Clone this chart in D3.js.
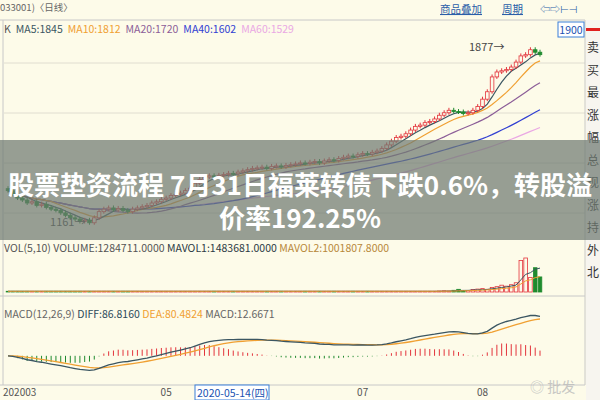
<!DOCTYPE html>
<html><head><meta charset="utf-8">
<script src="https://cdn.jsdelivr.net/npm/d3@7"></script>
<style>body{margin:0;background:#fff}svg{display:block;font-family:"Noto Sans CJK SC","DejaVu Sans",sans-serif}</style>
</head><body><div id="chart"></div>
<script>
// daily closes, Mar - mid Aug
const closes = [1300,1285,1270,1262,1250,1255,1240,1245,1232,1225,
  1220,1210,1200,1190,1185,1175,1180,1170,1190,1215,
  1225,1230,1222,1228,1220,1215,1225,1230,1235,1240,
  1250,1255,1265,1270,1280,1285,1290,1300,1310,1330,
  1345,1355,1360,1355,1362,1365,1370,1368,1375,1380,
  1385,1390,1392,1395,1390,1398,1400,1396,1402,1405,
  1408,1412,1410,1415,1418,1412,1420,1425,1422,1430,
  1435,1440,1438,1445,1450,1448,1455,1460,1470,1485,
  1500,1515,1520,1530,1545,1560,1565,1575,1580,1590,
  1605,1615,1625,1620,1618,1612,1615,1625,1640,1670,
  1700,1760,1780,1785,1790,1800,1820,1845,1850,1870,1860,1850];
const vols = [3,3,3,3,3,3,3,3,3,3, 3,3,3,3,3,3,3,3,3,3, 3,3,3,3,3,3,3,3,3,3,
  3,3,3,3,3,3,3,3,3,3, 3,3,3,3,3,3,3,3,3,3, 3,3,3,3,3,3,3,3,3,3,
  3,3,3,3,3,3,3,3,3,3, 3,3,3,3,3,3,3,3,3,3, 3,3,3,3,3,3,3,3,3,3,
  4,5,4,7,11,6,6,10,12,14, 11,19,22,28,24,30,38,130,140,60,100,62];
const maDefs = [["MA5",5,"#3b5662"],["MA10",10,"#f0a032"],["MA20",20,"#8c5e98"],["MA40",40,"#3140d2"],["MA60",60,"#eaa8e4"]];
const legendK = [["K","#555"],["MA5:1845","#3b5662"],["MA10:1812","#f0a032"],["MA20:1720","#8c5e98"],["MA40:1602","#3140d2"],["MA60:1529","#eaa8e4"]];
const monthTicks = [[0,"202003"],[33,"05"],[74,"07"],[99,"08"]];
const sideChars = ["卖","买","最","涨","幅","总","现","涨","持","外","北"];

const W = 600, H = 400;
const svg = d3.select("#chart").append("svg").attr("width", W).attr("height", H);
svg.append("rect").attr("width", W).attr("height", H).attr("fill", "#fdfbe9");

const x = d3.scaleLinear().domain([0, closes.length - 1]).range([8, 540]);
const y = d3.scaleLinear().domain([1161, 1877]).range([225, 48]);
const up = "#e3343c", down = "#1f8a2e";

// panel frames / grid
svg.append("line").attr("x1", 0).attr("x2", 585).attr("y1", 20).attr("y2", 20).attr("stroke", "#c8c8c8");
[63, 113, 163, 213].forEach(g => svg.append("line").attr("x1", 4).attr("x2", 585).attr("y1", g).attr("y2", g).attr("stroke", "#e0ddd0"));
svg.append("line").attr("x1", 585).attr("x2", 585).attr("y1", 20).attr("y2", 385).attr("stroke", "#c8c8c8");
svg.append("line").attr("x1", 3).attr("x2", 3).attr("y1", 20).attr("y2", 385).attr("stroke", "#c8c8c8");
[296, 385].forEach(g => svg.append("line").attr("x1", 0).attr("x2", 585).attr("y1", g).attr("y2", g).attr("stroke", "#c8c8c8"));

// moving averages
const ma = n => closes.map((c, i) => d3.mean(closes.slice(Math.max(0, i - n + 1), i + 1)));
maDefs.slice().reverse().forEach(([, n, col]) => {
  svg.append("path").datum(ma(n)).attr("fill", "none").attr("stroke", col).attr("stroke-width", 1.2)
    .attr("d", d3.line().x((d, i) => x(i)).y(d => y(d)));
});

// candles
const opens = closes.map((c, i) => i ? closes[i - 1] : c + 8);
const cg = svg.append("g");
closes.forEach((c, i) => {
  const o = opens[i], isUp = c >= o, col = isUp ? up : down;
  const hi = Math.max(o, c) + 10, lo = Math.min(o, c) - 8;
  cg.append("line").attr("x1", x(i)).attr("x2", x(i)).attr("y1", y(hi)).attr("y2", y(lo)).attr("stroke", col);
  const top = y(Math.max(o, c)), h = Math.max(1, y(Math.min(o, c)) - top);
  cg.append("rect").attr("x", x(i) - 1.8).attr("y", top).attr("width", 3.6).attr("height", h)
    .attr("fill", isUp ? "#fdfbe9" : col).attr("stroke", col).attr("stroke-width", 0.8);
});
svg.append("text").attr("x", x(104) - 2).attr("y", 51).attr("font-size", 11).attr("fill", "#444").attr("text-anchor", "end").text("1877→");
svg.append("text").attr("x", x(17) - 4).attr("y", 226).attr("font-size", 11).attr("fill", "#444").attr("text-anchor", "end").text("1161→");

// volume
const yv = d3.scaleLinear().domain([0, 140]).range([292, 258]);
vols.forEach((v, i) => {
  const isUp = closes[i] >= opens[i], col = isUp ? up : down;
  svg.append("rect").attr("x", x(i) - 1.8).attr("y", yv(v)).attr("width", 3.6).attr("height", 292 - yv(v))
    .attr("fill", isUp ? "#fdfbe9" : col).attr("stroke", col).attr("stroke-width", 0.8);
});
const mavol = n => vols.map((v, i) => d3.mean(vols.slice(Math.max(0, i - n + 1), i + 1)));
[[5, "#3b5662"], [10, "#f0a032"]].forEach(([n, col]) =>
  svg.append("path").datum(mavol(n)).attr("fill", "none").attr("stroke", col)
    .attr("d", d3.line().x((d, i) => x(i)).y(d => yv(d))));

// MACD
const ema = (arr, n) => { const k = 2 / (n + 1); let e = arr[0]; return arr.map(v => (e = v * k + e * (1 - k))); };
const e12 = ema(closes, 12), e26 = ema(closes, 26);
const diff = closes.map((c, i) => e12[i] - e26[i]);
const dea = ema(diff, 9);
const ym = d3.scaleLinear().domain([-55, 90]).range([382, 313]);
diff.forEach((d, i) => {
  const m = 2 * (d - dea[i]);
  svg.append("line").attr("x1", x(i)).attr("x2", x(i)).attr("y1", ym(0)).attr("y2", ym(m))
    .attr("stroke", m >= 0 ? up : down).attr("stroke-width", 1);
});
[[dea, "#f0a032"], [diff, "#3b5662"]].forEach(([arr, col]) =>
  svg.append("path").datum(arr).attr("fill", "none").attr("stroke", col).attr("stroke-width", 1.3)
    .attr("d", d3.line().x((d, i) => x(i)).y(d => ym(d))));

// date axis
monthTicks.forEach(([i, t]) => svg.append("text").attr("x", i ? x(i) : 3).attr("y", 396).attr("font-size", 10)
  .attr("fill", "#555").attr("text-anchor", i ? "middle" : "start").text(t));
svg.append("rect").attr("x", 195).attr("y", 385).attr("width", 74).attr("height", 15).attr("fill", "#fff").attr("stroke", "#3b7fd8");
svg.append("text").attr("x", 197).attr("y", 397).attr("font-size", 10.5).attr("fill", "#2050b0").text("2020-05-14(四)");

// legends
let lx = 4;
legendK.forEach(([t, c]) => {
  const tx = svg.append("text").attr("x", lx).attr("y", 33).attr("font-size", 10.5).attr("fill", c).text(t);
  lx += tx.node().getComputedTextLength() + 5;
});
svg.append("text").attr("x", 4).attr("y", 318).attr("font-size", 10.5).attr("fill", "#666")
  .html('MACD(12,26,9) <tspan fill="#2c4a5a">DIFF:86.8160</tspan> <tspan fill="#f0a032">DEA:80.4824</tspan> MACD:12.6671');
svg.append("text").attr("x", 0).attr("y", 11).attr("font-size", 9.5).attr("fill", "#666").text("033001)〈日线〉");
[["商品叠加", 440], ["周期", 502]].forEach(([t, px]) =>
  svg.append("text").attr("x", px).attr("y", 13).attr("font-size", 10.5).attr("fill", "#2a5ea8").attr("text-decoration", "underline").text(t));
svg.append("text").attr("x", 540).attr("y", 13).attr("font-size", 10).attr("fill", "#2a5ea8").text("⇦⇨⊢⊣");
svg.append("rect").attr("x", 558).attr("y", 22).attr("width", 26).attr("height", 15).attr("fill", "#fff").attr("stroke", "#3b7fd8");
svg.append("text").attr("x", 571).attr("y", 34).attr("font-size", 10.5).attr("fill", "#2050b0").attr("text-anchor", "middle").text("1900");

// right sidebar
svg.append("rect").attr("x", 586).attr("y", 20).attr("width", 14).attr("height", 380).attr("fill", "#f7f5ef");
svg.append("rect").attr("x", 586).attr("y", 28).attr("width", 14).attr("height", 3).attr("fill", "#e02020");
sideChars.forEach((c, i) => svg.append("text").attr("x", 587).attr("y", 52 + i * 22.5).attr("font-size", 12).attr("fill", "#333").text(c));

// overlay title
svg.append("rect").attr("x", 0).attr("y", 140).attr("width", W).attr("height", 100).attr("fill", "#6f7a72").attr("opacity", 0.72);
svg.append("text").attr("x", 300).attr("y", 195).attr("text-anchor", "middle").attr("font-size", 26).attr("font-weight", "bold").attr("fill", "#fff")
  .attr("textLength", 584).attr("lengthAdjust", "spacingAndGlyphs")
  .text("股票垫资流程 7月31日福莱转债下跌0.6%，转股溢");
svg.append("text").attr("x", 300).attr("y", 228).attr("text-anchor", "middle").attr("font-size", 26).attr("font-weight", "bold").attr("fill", "#fff")
  .text("价率192.25%");
svg.append("text").attr("x", 4).attr("y", 252).attr("font-size", 10.5).attr("fill", "#555")
  .html('VOL(5,10) VOLUME:1284711.0000 <tspan fill="#2c3a44">MAVOL1:1483681.0000</tspan> <tspan fill="#b8883a">MAVOL2:1001807.8000</tspan>');
svg.append("text").attr("x", 530).attr("y", 392).attr("font-size", 14).attr("fill", "#bbb").attr("opacity", 0.8).text("◎ 批发");
</script></body></html>
